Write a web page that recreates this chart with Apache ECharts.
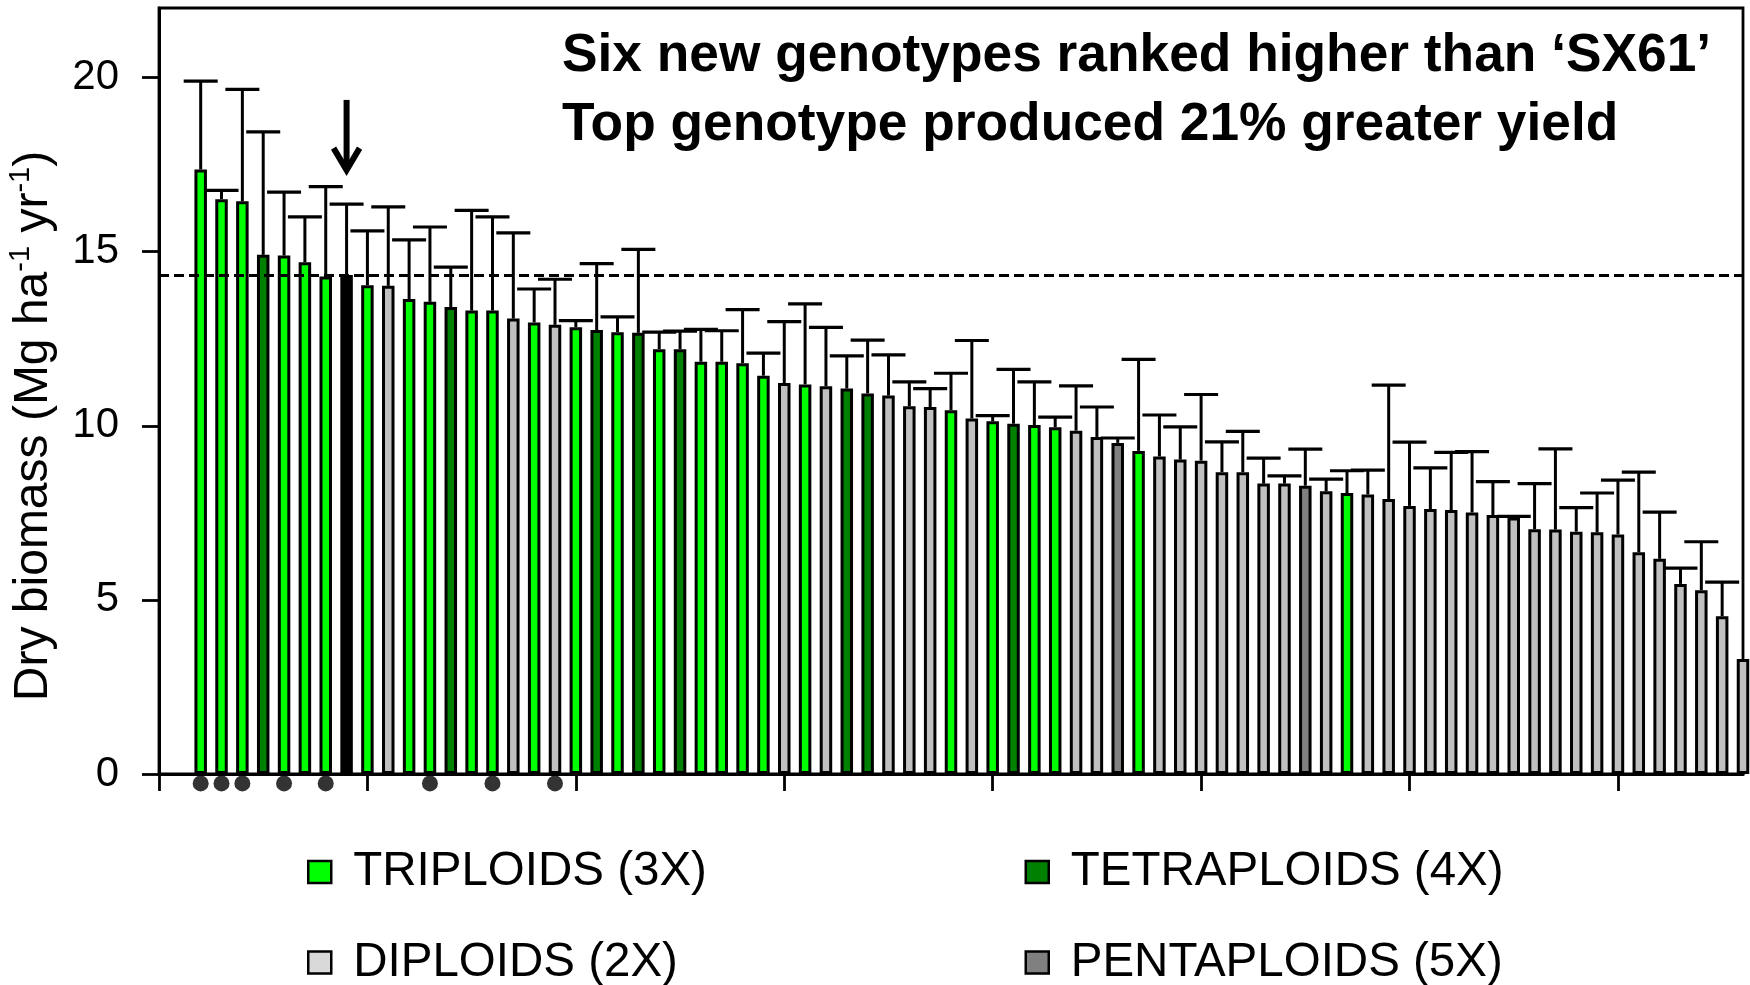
<!DOCTYPE html>
<html><head><meta charset="utf-8">
<script src="https://cdn.jsdelivr.net/npm/echarts@6/dist/echarts.min.js"></script>
<style>html,body{margin:0;padding:0;background:#fff}#c{width:1750px;height:985px}</style>
</head><body><div id="c"></div>
<script>
// ---- data (genotypes ranked by dry biomass, Mg ha-1 yr-1) ----
const values = [17.36,16.51,16.45,14.91,14.89,14.70,14.29,14.33,14.04,14.02,
  13.64,13.56,13.41,13.31,13.31,13.08,12.97,12.90,12.83,12.75,
  12.69,12.67,12.20,12.20,11.84,11.84,11.80,11.44,11.23,11.19,
  11.14,11.07,10.93,10.87,10.56,10.54,10.45,10.21,10.13,10.06,
  10.02,9.96,9.86,9.68,9.51,9.28,9.12,9.03,9.00,8.67,
  8.67,8.34,8.34,8.28,8.12,8.07,8.03,7.90,7.70,7.61,
  7.58,7.51,7.44,7.37,7.03,7.02,6.96,6.94,6.88,6.37,
  6.18,5.46,5.28,4.53,3.30];
const errors = [2.54,0.25,3.21,3.53,1.82,1.30,2.58,2.04,1.56,2.27,
  1.70,2.15,1.15,2.88,2.69,2.46,0.96,1.31,0.19,1.91,
  0.44,2.40,0.49,0.52,0.93,0.89,1.54,0.65,1.76,2.31,
  1.69,0.94,1.53,1.17,0.70,0.53,1.06,2.24,0.16,1.56,
  1.24,0.29,1.29,0.86,0.14,2.63,1.19,0.94,1.90,0.87,
  1.17,0.73,0.22,1.05,0.35,0.64,0.70,3.27,1.83,1.18,
  1.66,1.75,0.96,0.03,1.31,2.32,0.69,1.13,1.56,2.30,
  1.34,0.45,1.39,0.98,null];
// T = triploid, Q = tetraploid, D = diploid, P = pentaploid, S = 'SX61'
const ploidy = ['T','T','T','Q','T','T','T','S','T','D',
  'T','T','Q','T','T','D','T','D','T','Q',
  'T','Q','T','Q','T','T','T','T','D','T',
  'D','Q','Q','D','D','D','T','D','T','Q',
  'T','T','D','D','P','T','D','D','D','D',
  'D','D','D','P','D','T','D','D','D','D',
  'D','D','D','D','D','D','D','D','D','D',
  'D','D','D','D','D'];
const markedRanks = [1,2,3,5,7,12,15,18];
const sx61Value = 14.33;
const yTicks = [0,5,10,15,20];
const xTicks = [0,10,20,30,40,50,60,70];
const arrowRank = 8, arrowTop = 19.36, arrowTip = 17.2;
const dotY = -0.27;
const titleLines = ['Six new genotypes ranked higher than \u2018SX61\u2019','Top genotype produced 21% greater yield'];

const FONT = "'Liberation Sans', Arial, sans-serif";
const groups = [
  {key:'T', name:'TRIPLOIDS (3X)', color:'#00FF00', legendColor:'#00FF00'},
  {key:'Q', name:'TETRAPLOIDS (4X)', color:'#008000', legendColor:'#008000'},
  {key:'D', name:'DIPLOIDS (2X)', color:'#C0C0C0', legendColor:'#D9D9D9'},
  {key:'P', name:'PENTAPLOIDS (5X)', color:'#808080', legendColor:'#808080'},
  {key:'S', name:'SX61', color:'#000000'}
];
const xOf = r => r + 1; // rank -> position on the x scale

const barSeries = groups.map(g => ({
  type:'bar', name:g.name, barWidth:12.5, barGap:'-100%',
  itemStyle:{color:g.color, borderColor:'#000', borderWidth:3},
  data: values.map((v,i)=> ploidy[i]===g.key ? [xOf(i+1), v] : null).filter(d=>d),
  z:2, silent:true
}));
barSeries[4].markLine = {
  silent:true, symbol:'none', z:10, label:{show:false},
  lineStyle:{type:[10,5], color:'#000', width:3},
  data:[{yAxis:sx61Value}]
};

const errSeries = {
  type:'custom', name:'err', z:5, clip:true, silent:true,
  data: values.map((v,i)=>[xOf(i+1), v, errors[i]==null ? NaN : errors[i]]),
  encode:{x:0, y:1},
  renderItem(params, api){
    const e = api.value(2);
    if (e == null || isNaN(e)) return null;
    const x = api.value(0), v = api.value(1);
    const p0 = api.coord([x, v]), p1 = api.coord([x, v + e]);
    return {type:'group', children:[
      {type:'line', shape:{x1:p0[0], y1:p0[1], x2:p1[0], y2:p1[1]}, style:{stroke:'#000', lineWidth:3}},
      {type:'line', shape:{x1:p1[0]-17, y1:p1[1], x2:p1[0]+17, y2:p1[1]}, style:{stroke:'#000', lineWidth:3.2}}
    ]};
  }
};

const arrowSeries = {
  type:'custom', name:'arrow', z:10, clip:false, silent:true,
  data:[[xOf(arrowRank), arrowTop, arrowTip]],
  encode:{x:0, y:1},
  renderItem(params, api){
    const t = api.coord([api.value(0), api.value(1)]);
    const b = api.coord([api.value(0), api.value(2)]);
    const tipY = b[1] - 5;
    return {type:'group', children:[
      {type:'line', shape:{x1:t[0], y1:t[1], x2:t[0], y2:tipY-2}, style:{stroke:'#000', lineWidth:6}},
      {type:'polyline', shape:{points:[[b[0]-13, tipY-22],[b[0], tipY],[b[0]+13, tipY-22]]},
        style:{stroke:'#000', lineWidth:6, fill:null, lineJoin:'miter'}}
    ]};
  }
};

const dotSeries = {
  type:'scatter', name:'marked', z:10, clip:false, silent:true,
  symbolSize:16, itemStyle:{color:'#000'},
  data: markedRanks.map(r=>[xOf(r), dotY])
};

const chart = echarts.init(document.getElementById('c'), null, {renderer:'canvas'});
chart.setOption({
  animation:false,
  backgroundColor:'#fff',
  textStyle:{fontFamily:FONT},
  title:{
    text: titleLines.join('\n'), left:562, top:22, padding:0,
    textStyle:{fontSize:53.3, fontWeight:'bold', color:'#000', fontFamily:FONT, lineHeight:69}
  },
  grid:{left:159, right:7, top:8, bottom:211, show:true, borderColor:'#000', borderWidth:2.8, backgroundColor:'transparent'},
  xAxis:{
    type:'value', min:0, max:76, interval:10,
    axisLine:{show:true, onZero:false, lineStyle:{color:'#000', width:3}},
    axisTick:{show:true, customValues:xTicks, length:17, inside:false, lineStyle:{color:'#000', width:2.8}},
    axisLabel:{show:false}, splitLine:{show:false}
  },
  yAxis:{
    type:'value', min:0, max:22, interval:5,
    axisLine:{show:true, lineStyle:{color:'#000', width:3}},
    axisTick:{show:true, customValues:yTicks, length:17, inside:false, lineStyle:{color:'#000', width:2.8}},
    axisLabel:{customValues:yTicks, fontSize:42, margin:40, color:'#000', fontFamily:FONT},
    splitLine:{show:false}
  },
  legend: groups.slice(0,4).map((g,i)=>({
    data:[{name:g.name, itemStyle:{color:g.legendColor, borderColor:'#000', borderWidth:2.5}}],
    left: i%2===0 ? 307 : 1024.5, top: i<2 ? 848 : 938.5,
    icon:'rect', itemWidth:23, itemHeight:22, padding:0, selectedMode:false,
    textStyle:{fontSize:47.5, color:'#000', fontFamily:FONT, padding:[0,0,0,17], lineHeight:48}
  })),
  graphic:[{
    type:'text', x:33.5, y:426, rotation:Math.PI/2, silent:true,
    style:{
      text:'{a|Dry biomass (Mg ha}{s|-1}{a| yr}{s|-1}{a|)}',
      align:'center', verticalAlign:'middle',
      rich:{
        a:{fontSize:48, fontFamily:FONT, fill:'#000', lineHeight:54},
        s:{fontSize:29, fontFamily:FONT, fill:'#000', lineHeight:40, verticalAlign:'top'}
      }
    }
  }],
  series:[...barSeries, errSeries, arrowSeries, dotSeries]
});
</script>
</body></html>
